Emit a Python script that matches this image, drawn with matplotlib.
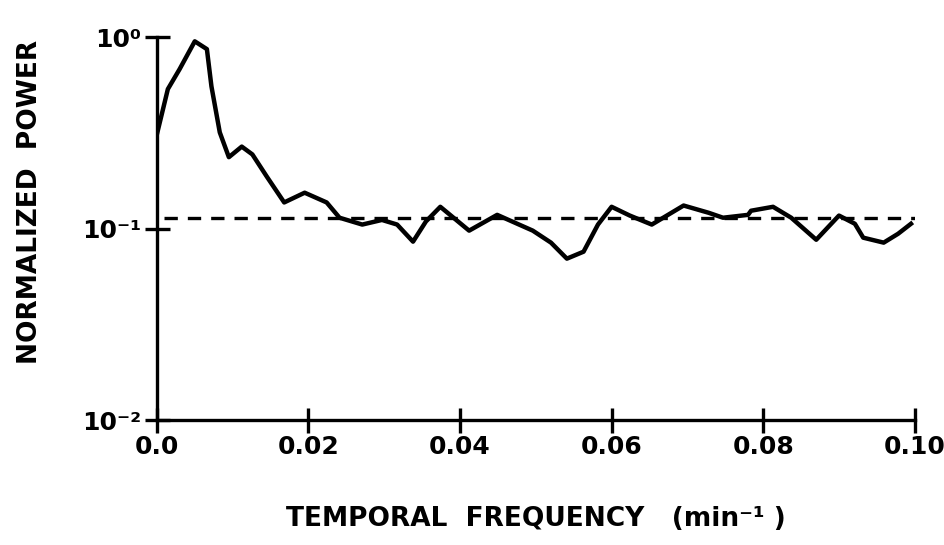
import numpy as np
import matplotlib.pyplot as plt
import matplotlib.transforms as mtransforms

# power spectrum
freq = [0.0, 0.00145, 0.0030, 0.0050, 0.0066, 0.0072, 0.0083, 0.0095, 0.0112,
        0.0126, 0.0145, 0.0168, 0.0195, 0.0224, 0.0241, 0.0271, 0.0297, 0.0317,
        0.0338, 0.0355, 0.0374, 0.0412, 0.0449, 0.0496, 0.0520, 0.0541, 0.0563,
        0.0582, 0.0600, 0.0624, 0.0653, 0.0695, 0.0728, 0.0747, 0.0780, 0.0784,
        0.0813, 0.0837, 0.0870, 0.0900, 0.0921, 0.0932, 0.0959, 0.0978, 0.0995]
power = [0.31, 0.535, 0.68, 0.95, 0.865, 0.553, 0.318, 0.236, 0.268,
         0.244, 0.187, 0.137, 0.154, 0.137, 0.114, 0.105, 0.111, 0.105,
         0.0855, 0.109, 0.130, 0.0976, 0.118, 0.0976, 0.0845, 0.0697, 0.0758,
         0.105, 0.130, 0.117, 0.105, 0.132, 0.121, 0.114, 0.118, 0.124,
         0.130, 0.114, 0.0875, 0.117, 0.106, 0.0897, 0.0845, 0.094, 0.106]
noise_level = 0.114

xticks = [0.0, 0.02, 0.04, 0.06, 0.08, 0.10]
xticklabels = ["0.0", "0.02", "0.04", "0.06", "0.08", "0.10"]
yticks = [1e-2, 1e-1, 1e0]
yticklabels = ["10\u207b\u00b2", "10\u207b\u00b9", "10\u2070"]

plt.rcParams['font.family'] = ['DejaVu Sans']
plt.rcParams['font.weight'] = 'bold'

fig = plt.figure(figsize=(9.45, 5.45), dpi=100)
ax = fig.add_axes([0.166, 0.229, 0.802, 0.703])

ax.plot(freq, power, color='black', lw=3.2, solid_joinstyle='round')
ax.axhline(noise_level, xmin=0.01, xmax=1.0, color='black', lw=2.4,
           ls=(0, (4, 3)))

ax.set_yscale('log')
ax.set_xlim(0, 0.10)
ax.set_ylim(1e-2, 1e0)
ax.minorticks_off()
ax.set_xticks(xticks)
ax.set_xticklabels(xticklabels, fontsize=18, fontweight='bold')
ax.set_yticks(yticks)
ax.set_yticklabels(yticklabels, fontsize=18, fontweight='bold')

# nudge the last x label left so it stays on the page
last = ax.get_xticklabels()[-1]
last.set_transform(last.get_transform() +
                   mtransforms.ScaledTranslation(-12 / 100, 0, fig.dpi_scale_trans))

for s in ['top', 'right']:
    ax.spines[s].set_visible(False)
for s in ['left', 'bottom']:
    ax.spines[s].set_linewidth(2.4)
ax.tick_params(direction='inout', length=18, width=2.4, pad=2)

ax.set_xlabel("TEMPORAL  FREQUENCY   (min\u207b\u00b9 )", fontsize=19,
              fontweight='bold')
ax.xaxis.set_label_coords(0.5, -0.225)
ax.set_ylabel("NORMALIZED  POWER", fontsize=19, fontweight='bold')
ax.yaxis.set_label_coords(-0.15, 0.57)

fig.savefig('out.png', dpi=100)
